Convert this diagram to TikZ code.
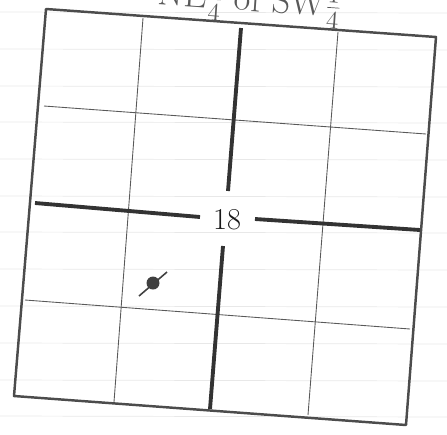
\documentclass[tikz,border=0pt]{standalone}
\begin{document}
\begin{tikzpicture}[x=0.02cm,y=-0.02cm,
  thinline/.style={gray!70!black,line width=0.5pt},
  secline/.style={black!80,line width=2.2pt},
  border/.style={gray!60!black,line width=1.4pt,line join=round}]
  \useasboundingbox (0,0) rectangle (447,434);
  \clip (0,0) rectangle (447,434);
  % faint ruling of the paper
  \foreach \y in {12,49,86,122,159,196,232,269,306,343,380,416}
    \draw[gray!18,line width=0.4pt] (0,\y) -- (447,\y+1);
  % corners of the section
  \coordinate (nw) at (46,9);
  \coordinate (ne) at (436,37);
  \coordinate (se) at (406,425);
  \coordinate (sw) at (14,396);
  % quarter-quarter lines
  \draw[thinline] (143,18) -- (114,402);
  \draw[thinline] (338,32) -- (308,415);
  \draw[thinline] (44,106) -- (426,134);
  \draw[thinline] (25,300) -- (410,329);
  % quarter lines
  \draw[secline] (241,28) -- (228,191);
  \draw[secline] (223,246) -- (210,409);
  \draw[secline] (35,203) -- (200,217);
  \draw[secline] (255,219) -- (420,230);
  \draw[border] (nw) -- (ne) -- (se) -- (sw) -- cycle;
  \node[font=\LARGE,gray!20!black] (sec) at (227,220) {18};
  % well
  \fill[black!75] (153,283) circle (6.5);
  \draw[black!75,line width=0.9pt] (139,296) -- (167,272);
  \node[font=\huge,rotate=-4,gray!70!black] (title) at (250,2) {NE$\frac{1}{4}$ of SW$\frac{1}{4}$};
\end{tikzpicture}
\end{document}
